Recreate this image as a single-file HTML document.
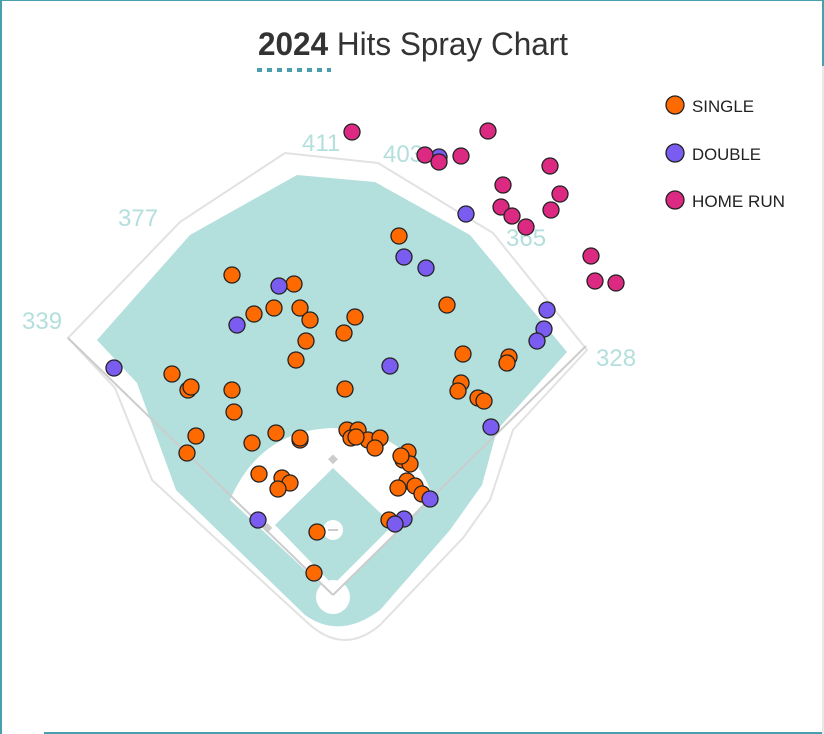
<!DOCTYPE html>
<html><head><meta charset="utf-8"><style>
html,body{margin:0;padding:0;background:#fff;}
body{width:824px;height:734px;overflow:hidden;position:relative;}
</style></head><body>
<svg width="824" height="734" viewBox="0 0 824 734" xmlns="http://www.w3.org/2000/svg" style="position:absolute;left:0;top:0">
<rect x="0" y="0" width="824" height="1" fill="#4a9fad"/>
<rect x="0" y="0" width="2" height="734" fill="#4a9fad"/>
<rect x="822" y="0" width="2" height="66" fill="#4a9fad"/>
<rect x="822" y="66" width="2" height="668" fill="#e8e8e8"/>
<rect x="44" y="732" width="778" height="2" fill="#4a9fad"/>
<text x="258" y="55" font-family="Liberation Sans, sans-serif" font-size="32" fill="#333" textLength="310" lengthAdjust="spacingAndGlyphs"><tspan font-weight="bold">2024</tspan> Hits Spray Chart</text>
<line x1="257" y1="70" x2="331" y2="70" stroke="#4a9fad" stroke-width="4" stroke-dasharray="5,5"/>
<path d="M68,338 L180,222 L285,153 L378,163 L493,233 L587,350 L513,430 L490,500 L463,538 L380,625 Q345,655 310,625 L152,480 L115,388 Z" fill="none" stroke="#e2e2e2" stroke-width="2"/>
<path d="M97,340 L190,235 L297,175 L375,182 L470,235 L567,352 L497,430 L482,485 L450,530 L380,610 Q340,640 305,615 L176,490 L137,383 Z" fill="#b3dfdc"/>
<path d="M230,500 Q260,430 333,428 Q410,430 432,495 L333,596 Z" fill="#fff"/>
<path d="M333,585 L393,525 L333,468 L275,525 Z" fill="#b3dfdc"/>
<circle cx="333" cy="530" r="10" fill="#fff"/>
<line x1="328" y1="530" x2="338" y2="530" stroke="#ccc" stroke-width="2"/>
<circle cx="333" cy="597" r="17" fill="#fff"/>
<line x1="333" y1="595" x2="68" y2="338" stroke="#ccc" stroke-width="2"/>
<line x1="333" y1="595" x2="586" y2="346" stroke="#ccc" stroke-width="2"/>
<rect x="329" y="456" width="7" height="7" fill="#ccc" transform="rotate(45 333 460)"/>
<rect x="264" y="525" width="7" height="7" fill="#ccc" transform="rotate(45 268 528)"/>
<rect x="394" y="525" width="7" height="7" fill="#ccc" transform="rotate(45 398 528)"/>
<g font-family="Liberation Sans, sans-serif" font-size="24" fill="#b3dfdc">
<text x="22" y="329">339</text><text x="118" y="226">377</text><text x="302" y="151">411</text><text x="383" y="162">403</text><text x="506" y="246">365</text><text x="596" y="366">328</text>
</g>
<g stroke="#222" stroke-width="1.3" fill="#ff6a00">
<circle cx="232" cy="275" r="8"/><circle cx="294" cy="284" r="8"/><circle cx="254" cy="314" r="8"/><circle cx="274" cy="308" r="8"/><circle cx="300" cy="308" r="8"/><circle cx="310" cy="320" r="8"/><circle cx="306" cy="341" r="8"/><circle cx="296" cy="360" r="8"/><circle cx="355" cy="317" r="8"/><circle cx="344" cy="333" r="8"/><circle cx="399" cy="236" r="8"/><circle cx="447" cy="305" r="8"/><circle cx="463" cy="354" r="8"/><circle cx="509" cy="357" r="8"/><circle cx="507" cy="363" r="8"/><circle cx="461" cy="383" r="8"/><circle cx="458" cy="391" r="8"/><circle cx="478" cy="398" r="8"/><circle cx="484" cy="401" r="8"/><circle cx="345" cy="389" r="8"/><circle cx="232" cy="390" r="8"/><circle cx="234" cy="412" r="8"/><circle cx="172" cy="374" r="8"/><circle cx="188" cy="390" r="8"/><circle cx="191" cy="387" r="8"/><circle cx="196" cy="436" r="8"/><circle cx="187" cy="453" r="8"/><circle cx="252" cy="443" r="8"/><circle cx="276" cy="433" r="8"/><circle cx="300" cy="440" r="8"/><circle cx="300" cy="438" r="8"/><circle cx="347" cy="430" r="8"/><circle cx="358" cy="430" r="8"/><circle cx="351" cy="438" r="8"/><circle cx="368" cy="440" r="8"/><circle cx="380" cy="438" r="8"/><circle cx="375" cy="448" r="8"/><circle cx="356" cy="437" r="8"/><circle cx="408" cy="452" r="8"/><circle cx="403" cy="460" r="8"/><circle cx="410" cy="464" r="8"/><circle cx="401" cy="456" r="8"/><circle cx="407" cy="481" r="8"/><circle cx="398" cy="488" r="8"/><circle cx="415" cy="486" r="8"/><circle cx="422" cy="494" r="8"/><circle cx="259" cy="474" r="8"/><circle cx="282" cy="478" r="8"/><circle cx="290" cy="483" r="8"/><circle cx="278" cy="489" r="8"/><circle cx="389" cy="520" r="8"/><circle cx="317" cy="532" r="8"/><circle cx="314" cy="573" r="8"/>
</g>
<g stroke="#222" stroke-width="1.3" fill="#7b5cf0">
<circle cx="279" cy="286" r="8"/><circle cx="237" cy="325" r="8"/><circle cx="114" cy="368" r="8"/><circle cx="390" cy="366" r="8"/><circle cx="404" cy="257" r="8"/><circle cx="426" cy="268" r="8"/><circle cx="466" cy="214" r="8"/><circle cx="547" cy="310" r="8"/><circle cx="544" cy="329" r="8"/><circle cx="537" cy="341" r="8"/><circle cx="491" cy="427" r="8"/><circle cx="430" cy="499" r="8"/><circle cx="404" cy="519" r="8"/><circle cx="395" cy="524" r="8"/><circle cx="258" cy="520" r="8"/><circle cx="439" cy="157" r="8"/>
</g>
<g stroke="#222" stroke-width="1.3" fill="#dc2a82">
<circle cx="352" cy="132" r="8"/><circle cx="488" cy="131" r="8"/><circle cx="425" cy="155" r="8"/><circle cx="439" cy="162" r="8"/><circle cx="461" cy="156" r="8"/><circle cx="550" cy="166" r="8"/><circle cx="503" cy="185" r="8"/><circle cx="560" cy="194" r="8"/><circle cx="501" cy="207" r="8"/><circle cx="512" cy="216" r="8"/><circle cx="551" cy="210" r="8"/><circle cx="526" cy="227" r="8"/><circle cx="591" cy="256" r="8"/><circle cx="595" cy="281" r="8"/><circle cx="616" cy="283" r="8"/>
</g>
<g stroke="#222" stroke-width="1.3">
<circle cx="675" cy="105" r="9" fill="#ff6a00"/><circle cx="675" cy="153" r="9" fill="#7b5cf0"/><circle cx="675" cy="200" r="9" fill="#dc2a82"/>
</g>
<g font-family="Liberation Sans, sans-serif" font-size="17" fill="#222">
<text x="692" y="112" textLength="62" lengthAdjust="spacingAndGlyphs">SINGLE</text>
<text x="692" y="160" textLength="69" lengthAdjust="spacingAndGlyphs">DOUBLE</text>
<text x="692" y="207" textLength="93" lengthAdjust="spacingAndGlyphs">HOME RUN</text>
</g>
</svg>
</body></html>
